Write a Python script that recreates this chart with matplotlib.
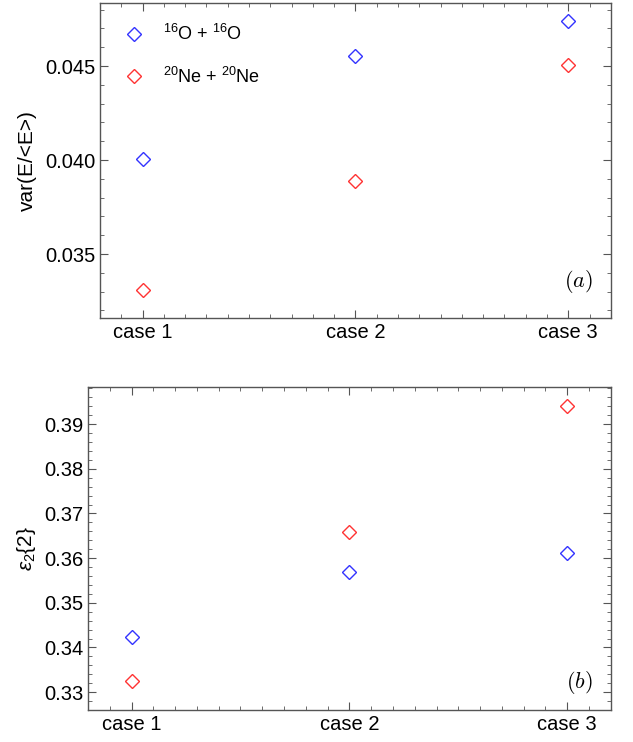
import matplotlib
matplotlib.use("Agg")
import matplotlib.pyplot as plt
from matplotlib.ticker import MultipleLocator

plt.rcParams['font.family'] = ['Liberation Sans', 'DejaVu Sans']
plt.rcParams['mathtext.fontset'] = 'custom'
plt.rcParams['mathtext.rm'] = 'Liberation Sans'
plt.rcParams['mathtext.it'] = 'Liberation Sans:italic'

# data
cases = [1, 2, 3]
case_labels = ['case 1', 'case 2', 'case 3']
var_OO = [0.04005, 0.04555, 0.04741]
var_NeNe = [0.0331, 0.0389, 0.04505]
eps2_OO = [0.3424, 0.3568, 0.3612]
eps2_NeNe = [0.3326, 0.3659, 0.3941]

blue = '#3333ff'
red = '#ff3333'
frame = '#555555'
fs = 14.5

fig = plt.figure(figsize=(6.33, 7.42), dpi=100)
ax1 = fig.add_axes([0.158, 0.5714, 0.807, 0.4245])
ax2 = fig.add_axes([0.139, 0.0431, 0.826, 0.4353])

mk = dict(marker='D', linestyle='none', markersize=7, markerfacecolor='none',
          markeredgewidth=1.0)

ax1.plot(cases, var_OO, color=blue, label=r'$^{16}$O + $^{16}$O', **mk)
ax1.plot(cases, var_NeNe, color=red, label=r'$^{20}$Ne + $^{20}$Ne', **mk)
ax1.set_ylim(0.0316, 0.04835)
ax1.yaxis.set_major_locator(MultipleLocator(0.005))
ax1.yaxis.set_minor_locator(MultipleLocator(0.001))
ax1.set_ylabel('var(E/<E>)', fontsize=15, labelpad=6)
ax1.legend(loc='upper left', frameon=False, fontsize=13, labelspacing=1.25,
           handletextpad=0.6, borderaxespad=0.5, bbox_to_anchor=(0.0, 0.985))
ax1.text(0.965, 0.115, r'$(a)$', transform=ax1.transAxes, fontsize=16,
         math_fontfamily='cm', ha='right', va='center')

ax2.plot(cases, eps2_OO, color=blue, **mk)
ax2.plot(cases, eps2_NeNe, color=red, **mk)
ax2.set_ylim(0.326, 0.3983)
ax2.yaxis.set_major_locator(MultipleLocator(0.01))
ax2.yaxis.set_minor_locator(MultipleLocator(0.002))
ax2.set_ylabel(r'$\varepsilon_2${2}', fontsize=15, labelpad=4)
ax2.text(0.965, 0.085, r'$(b)$', transform=ax2.transAxes, fontsize=16,
         math_fontfamily='cm', ha='right', va='center')

for ax in (ax1, ax2):
    ax.set_xlim(0.8, 3.2)
    ax.set_xticks(cases)
    ax.set_xticklabels(case_labels)
    ax.xaxis.set_minor_locator(MultipleLocator(0.1))
    ax.tick_params(which='both', direction='in', top=True, right=True,
                   colors=frame, labelcolor='black', labelsize=fs)
    ax.tick_params(which='major', length=6, width=0.8)
    ax.tick_params(which='minor', length=3, width=0.6)
    ax.tick_params(axis='y', which='both', labelright=False)
    ax.tick_params(axis='x', which='both', labeltop=False)
    for s in ax.spines.values():
        s.set_color(frame)
        s.set_linewidth(1.0)

fig.savefig('out.png', dpi=100)
